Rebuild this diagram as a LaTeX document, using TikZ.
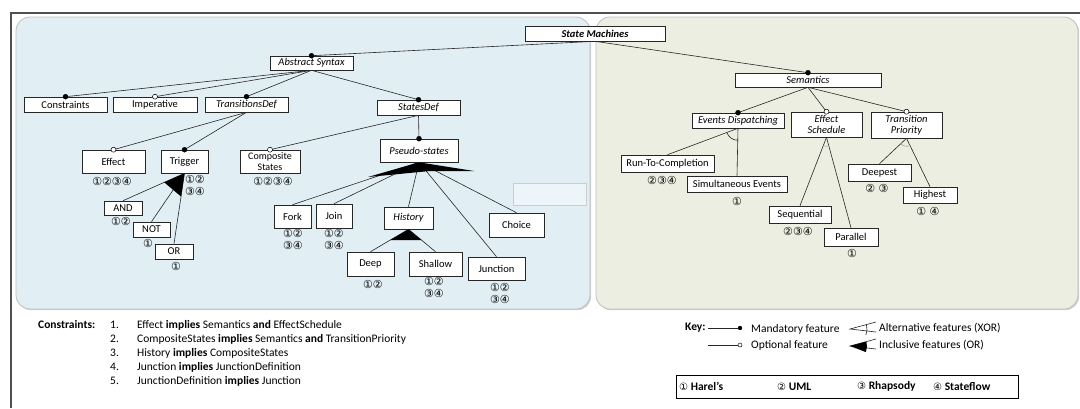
\documentclass[tikz,border=0pt]{standalone}
\usepackage{fontspec}
\setmainfont{Carlito}
\newfontfamily\sym{DejaVu Sans}
\usetikzlibrary{shadows,calc}
\definecolor{panelblue}{RGB}{225,238,244}
\definecolor{panelgreen}{RGB}{236,238,225}
\definecolor{panelborder}{RGB}{190,192,194}
\definecolor{framegray}{RGB}{80,80,80}
\tikzset{
  fnode/.style={draw=black!85, fill=white, line width=0.6pt, inner sep=1pt, align=center,
    font=\fontsize{10.5}{11}\selectfont,
    drop shadow={shadow xshift=1.1pt, shadow yshift=-1.1pt, fill=black!45, opacity=0.55}},
  itn/.style={font=\itshape\fontsize{10.5}{11}\selectfont},
  mand/.style={circle, fill=black, draw=black, line width=0.3pt, inner sep=0pt, minimum size=5pt},
  opt/.style={circle, fill=white, draw=black, line width=0.5pt, inner sep=0pt, minimum size=5pt},
  mands/.style={mand, minimum size=4pt},
  opts/.style={opt, minimum size=4pt},
  edge/.style={draw=black!85, line width=0.6pt},
  lab/.style={inner sep=0pt, align=center, font=\sym\fontsize{11}{12}\selectfont},
  txt/.style={inner sep=0pt, anchor=west, font=\fontsize{11.5}{12}\selectfont},
  btxt/.style={txt, font=\bfseries\fontsize{11.5}{12}\selectfont},
  panel/.style={rounded corners=14pt, draw=panelborder, line width=0.8pt,
    drop shadow={shadow xshift=1.2pt, shadow yshift=-1.2pt, fill=black!30, opacity=0.6}},
}
\begin{document}
\begin{tikzpicture}[x=1pt,y=-1pt]
\useasboundingbox (0,0) rectangle (1080,408);
\fill[white] (0,0) rectangle (1080,408);
% frame
\draw[framegray, line width=1.1pt] (11,408) -- (11,13) -- (1080,13);
% panels
\path[panel, fill=panelblue] (16,17) rectangle (590,309);
\path[panel, fill=panelgreen] (596,17) rectangle (1078,309);
% stray box
\draw[fill=white!40!panelblue, draw=black!20, line width=0.6pt,
  drop shadow={shadow xshift=1pt, shadow yshift=-1pt, fill=black!20, opacity=0.5}]
  (513,183) rectangle (586,205);

% nodes
\node[fnode, minimum width=140pt, minimum height=15pt, font=\bfseries\itshape\fontsize{10.5}{11}\selectfont] (sm) at (595,33.5) {State Machines};
\node[fnode, itn, minimum width=83pt, minimum height=14pt] (as) at (311.5,63) {Abstract Syntax};
\node[fnode, minimum width=83pt, minimum height=15pt] (con) at (65.5,104.5) {Constraints};
\node[fnode, minimum width=84pt, minimum height=15pt] (imp) at (155,104.5) {Imperative};
\node[fnode, itn, minimum width=83pt, minimum height=15pt] (td) at (246.5,104.5) {TransitionsDef};
\node[fnode, itn, minimum width=83pt, minimum height=15pt] (sd) at (418.5,107.5) {StatesDef};
\node[fnode, itn, minimum width=146pt, minimum height=14pt] (sem) at (808,80) {Semantics};
\node[fnode, itn, minimum width=92pt, minimum height=15pt] (ed) at (738,120.5) {Events Dispatching};
\node[fnode, itn, minimum width=71pt, minimum height=25pt] (es) at (826.5,124.5) {Effect\\Schedule};
\node[fnode, itn, minimum width=71pt, minimum height=26pt] (tp) at (906.5,125) {Transition\\Priority};
\node[fnode, minimum width=63pt, minimum height=23pt] (eff) at (113.5,161.5) {Effect};
\node[fnode, minimum width=47pt, minimum height=23pt] (trg) at (184.5,161.5) {Trigger};
\node[fnode, minimum width=60pt, minimum height=23pt, font=\fontsize{10}{10.5}\selectfont] (cs) at (270,161.5) {Composite\\States};
\node[fnode, minimum width=38pt, minimum height=14pt] (and) at (123,208) {AND};
\node[fnode, minimum width=37pt, minimum height=15pt] (not) at (151.5,229.5) {NOT};
\node[fnode, minimum width=38pt, minimum height=15pt] (or) at (174,251.5) {OR};
\node[fnode, itn, minimum width=78pt, minimum height=23pt] (ps) at (419,150.5) {Pseudo-states};
\node[fnode, minimum width=37pt, minimum height=23pt] (fork) at (292.5,216.5) {Fork};
\node[fnode, minimum width=36pt, minimum height=24pt] (join) at (334,216) {Join};
\node[fnode, itn, minimum width=49pt, minimum height=22pt] (hist) at (408.5,218) {History};
\node[fnode, minimum width=55pt, minimum height=24pt] (choice) at (516.5,225) {Choice};
\node[fnode, minimum width=47pt, minimum height=24pt] (deep) at (370.5,264) {Deep};
\node[fnode, minimum width=53pt, minimum height=24pt] (shallow) at (435.5,264) {Shallow};
\node[fnode, minimum width=57pt, minimum height=23pt] (junc) at (496.5,268.5) {Junction};
\node[fnode, minimum width=93pt, minimum height=17pt] (rtc) at (667.5,163.5) {Run-To-Completion};
\node[fnode, minimum width=100pt, minimum height=16pt] (se) at (737,184) {Simultaneous Events};
\node[fnode, minimum width=62pt, minimum height=17pt] (seq) at (800,214.5) {Sequential};
\node[fnode, minimum width=54pt, minimum height=18pt] (par) at (851,237) {Parallel};
\node[fnode, minimum width=63pt, minimum height=17pt] (dpst) at (879.5,172.5) {Deepest};
\node[fnode, minimum width=54pt, minimum height=16pt] (hst) at (930,195) {Highest};

% edges
\draw[edge] (sm.south) -- (as.north);
\draw[edge] (sm.south) -- (sem.north);
\draw[edge] (as.south) -- (con.north);
\draw[edge] (as.south) -- (imp.north);
\draw[edge] (as.south) -- (td.north);
\draw[edge] (as.south) -- (sd.north);
\draw[edge] (td.south) -- (eff.north);
\draw[edge] (td.south) -- (trg.north);
\draw[edge] (sd.south) -- (cs.north);
\draw[edge] (sd.south) -- (ps.north);
\draw[edge] (sem.south) -- (ed.north);
\draw[edge] (sem.south) -- (es.north);
\draw[edge] (sem.south) -- (tp.north);
\draw[edge] (ed.south) -- (rtc.north);
\draw[edge] (ed.south) -- (se.north);
\draw[edge] ($(ed.south)+(159:12)$) arc[start angle=159, end angle=90, radius=12];
\draw[edge] (es.south) -- (seq.north);
\draw[edge] (es.south) -- (par.north);
\draw[draw=black!35, line width=0.6pt] ($(es.south)+(111:9)$) arc[start angle=111, end angle=75, radius=9];
\draw[edge] (tp.south) -- (dpst.north);
\draw[edge] (tp.south) -- (hst.north);
\draw[draw=black!35, line width=0.6pt] ($(tp.south)+(136:8)$) arc[start angle=136, end angle=64, radius=8];
\draw[edge] (trg.south) -- (and.north);
\draw[edge] (trg.south) -- (not.north);
\draw[edge] (trg.south) -- (or.north);
\fill[black] (trg.south) -- ($(trg.south)!0.33!(and.north)$) -- ($(trg.south)!0.33!(or.north)$) -- cycle;
\draw[edge] (ps.south) -- (fork.north);
\draw[edge] (ps.south) -- (join.north);
\draw[edge] (ps.south) -- (hist.north);
\draw[edge] (ps.south) -- (junc.north);
\draw[edge] (ps.south) -- (choice.north);
\fill[black] (ps.south) -- (368,177) -- (430,171) -- (474,171) -- cycle;
\draw[edge] (hist.south) -- (deep.north);
\draw[edge] (hist.south) -- (shallow.north);
\fill[black] (hist.south) -- ($(hist.south)!0.48!(deep.north)$) -- ($(hist.south)!0.48!(shallow.north)$) -- cycle;

% dots
\node[mand] (d-as) at (as.north) {};
\node[mand] (d-sem) at (sem.north) {};
\node[mand] (d-con) at (con.north) {};
\node[opt] (d-imp) at (imp.north) {};
\node[mand] (d-td) at (td.north) {};
\node[mand] (d-sd) at (sd.north) {};
\node[opt] (d-eff) at (eff.north) {};
\node[mand] (d-trg) at (trg.north) {};
\node[opt] (d-cs) at (cs.north) {};
\node[mand] (d-ps) at (ps.north) {};
\node[mand] (d-ed) at (ed.north) {};
\node[opt] (d-es) at (es.north) {};
\node[opt] (d-tp) at (tp.north) {};

% tool labels
\node[lab] (l-eff) at (112,181) {①②③④};
\node[lab] (l-trg) at (195,185) {①②\\③④};
\node[lab] (l-cs) at (273,181) {①②③④};
\node[lab] (l-and) at (121,221) {①②};
\node[lab] (l-not) at (148,243) {①};
\node[lab] (l-or) at (176,266) {①};
\node[lab] (l-fork) at (293,239.5) {①②\\③④};
\node[lab] (l-join) at (334,239.5) {①②\\③④};
\node[lab] (l-deep) at (373,284) {①②};
\node[lab] (l-shallow) at (434,287.5) {①②\\③④};
\node[lab] (l-junc) at (500,293) {①②\\③④};
\node[lab] (l-rtc) at (662,180) {②③④};
\node[lab] (l-se) at (737,201) {①};
\node[lab] (l-seq) at (798,231) {②③④};
\node[lab] (l-par) at (852,253) {①};
\node[lab] (l-dpst) at (877,188) {② ③};
\node[lab] (l-hst) at (928,211) {① ④};

% constraints
\node[btxt] (c0) at (38,325) {Constraints:};
\node[txt] (n1) at (110,325) {1.};
\node[txt] (n2) at (110,339) {2.};
\node[txt] (n3) at (110,353) {3.};
\node[txt] (n4) at (110,367) {4.};
\node[txt] (n5) at (110,381) {5.};
\node[txt] (c1) at (137,325) {Effect \textbf{implies} Semantics \textbf{and} EffectSchedule};
\node[txt] (c2) at (137,339) {CompositeStates \textbf{implies} Semantics \textbf{and} TransitionPriority};
\node[txt] (c3) at (137,353) {History \textbf{implies} CompositeStates};
\node[txt] (c4) at (137,367) {Junction \textbf{implies} JunctionDefinition};
\node[txt] (c5) at (137,381) {JunctionDefinition \textbf{implies} Junction};

% key
\node[btxt] (k0) at (685,328) {Key:};
\coordinate (km0) at (708,328);
\node[mands] (km1) at (740,328) {};
\draw[edge] (km0) -- (km1);
\node[txt] (kmt) at (751,329) {Mandatory feature};
\coordinate (ko0) at (708,345);
\node[opts] (ko1) at (740,345) {};
\draw[edge] (ko0) -- (ko1);
\node[txt] (kot) at (751,345) {Optional feature};
\coordinate (kx0) at (850,329);
\coordinate (kx1) at (876,322);
\coordinate (kx2) at (876,332);
\draw[edge] (kx1) -- (kx0) -- (kx2);
\draw[edge] ($(kx0)+(-15:17)$) arc[start angle=-15, end angle=21, radius=17];
\node[txt] (kxt) at (879,328) {Alternative features (XOR)};
\coordinate (ki0) at (850,346);
\coordinate (ki1) at (876,339);
\coordinate (ki2) at (876,349);
\draw[edge] (ki1) -- (ki0) -- (ki2);
\fill[black] (ki0) -- ($(ki0)+(-15:17)$) arc[start angle=-15, end angle=21, radius=17] -- cycle;
\node[txt] (kit) at (879,345) {Inclusive features (OR)};

% tools box
\draw[black, fill=white, line width=0.8pt,
  drop shadow={shadow xshift=1pt, shadow yshift=-1pt, fill=black!30, opacity=0.5}]
  (676,375) rectangle (1018,398);
\node[btxt] (t1) at (679,386.5) {{\sym\mdseries\fontsize{10}{10}\selectfont ①} Harel’s};
\node[btxt] (t2) at (777,386.5) {{\sym\mdseries\fontsize{10}{10}\selectfont ②} UML};
\node[btxt] (t3) at (857,386.5) {{\sym\mdseries\fontsize{10}{10}\selectfont ③} Rhapsody};
\node[btxt] (t4) at (933,386.5) {{\sym\mdseries\fontsize{10}{10}\selectfont ④} Stateflow};
\end{tikzpicture}
\end{document}
